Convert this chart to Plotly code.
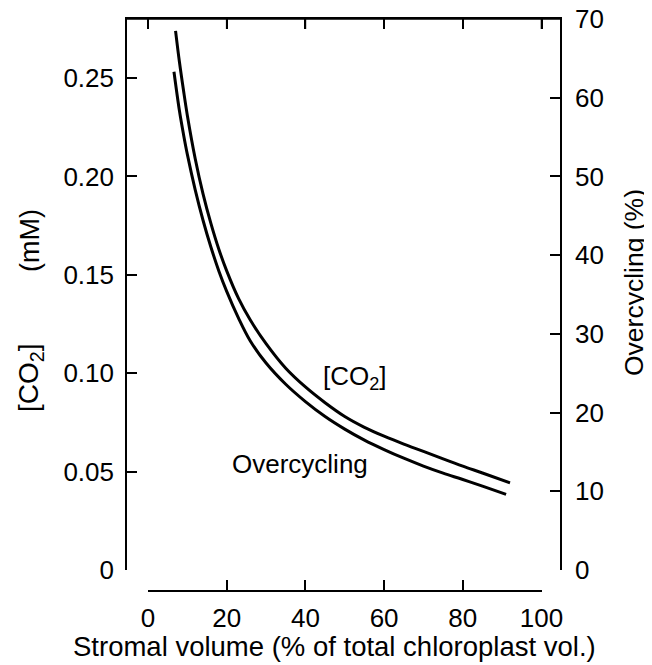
import plotly.graph_objects as go

# Stromal volume (% of total chloroplast volume)
stromal_co2 = [7, 8, 9, 10, 12, 14, 16, 18, 20, 23, 26, 30, 35, 40, 45, 50, 55, 60, 65, 70, 75, 80, 85, 92]
co2_mM = [0.274, 0.258, 0.244, 0.231, 0.209, 0.191, 0.176, 0.163, 0.152, 0.138, 0.127, 0.115, 0.1025,
          0.093, 0.085, 0.078, 0.0725, 0.068, 0.064, 0.0603, 0.0565, 0.0528, 0.0493, 0.0443]

stromal_oc = [6.6, 8, 9, 10, 12, 14, 16, 18, 20, 23, 26, 30, 35, 40, 45, 50, 55, 60, 65, 70, 75, 80, 85, 91]
overcycling_pct = [63.3, 58.3, 55.4, 52.8, 48.3, 44.4, 41.0, 38.0, 35.4, 32.0, 29.1, 26.3, 23.6,
                   21.4, 19.5, 17.9, 16.5, 15.3, 14.2, 13.2, 12.3, 11.5, 10.65, 9.6]

x_ticks = [0, 20, 40, 60, 80, 100]
left_ticks = [0, 0.05, 0.10, 0.15, 0.20, 0.25]
left_ticktext = ["0", "0.05", "0.10", "0.15", "0.20", "0.25"]
right_ticks = [0, 10, 20, 30, 40, 50, 60, 70]

FONT = "Liberation Sans, Arial, Helvetica, sans-serif"
TICKFONT = dict(family=FONT, size=26, color="black")

fig = go.Figure()
fig.add_trace(go.Scatter(x=stromal_co2, y=co2_mM, mode="lines", line=dict(color="black", width=3, shape="spline"),
                         xaxis="x", yaxis="y", showlegend=False, hoverinfo="skip"))
fig.add_trace(go.Scatter(x=stromal_oc, y=overcycling_pct, mode="lines", line=dict(color="black", width=3, shape="spline"),
                         xaxis="x", yaxis="y2", showlegend=False, hoverinfo="skip"))
# carrier trace for the detached bottom axis (invisible, lives in a thin strip below the plot)
fig.add_trace(go.Scatter(x=stromal_co2, y=co2_mM, mode="lines", line=dict(color="rgba(0,0,0,0)", width=0),
                         xaxis="x2", yaxis="y3", showlegend=False, hoverinfo="skip"))

# the page body keeps its default 8px margin: figure is 8px smaller, all page positions shifted by 8px
OFF = 8
W, H = 652 - OFF, 665 - OFF
L, R, T, B = 127 - OFF, 92, 19 - OFF, 75
pw = W - L - R
ph = H - T - B
x0_px, x100_px = 148 - OFF, 541.5 - OFF
scale = (x100_px - x0_px) / 100
xr = [-(x0_px - L) / scale, (W - R - x0_px) / scale]
ydom0 = 20 / ph
plot_h = ph * (1 - ydom0)
TICKLEN = 10
LW = 1.6

AX = dict(showline=True, linecolor="black", linewidth=LW, ticks="inside", ticklen=TICKLEN, tickwidth=LW,
          tickcolor="black", showgrid=False, zeroline=False, automargin=False, ticklabeloverflow="allow")

fig.update_layout(
    width=W, height=H,
    margin=dict(l=L, r=R, t=T, b=B),
    paper_bgcolor="white", plot_bgcolor="white",
    font=dict(family=FONT, color="black"),
    xaxis=dict(range=xr, side="top", anchor="y", tickvals=x_ticks, showticklabels=False, **AX),
    xaxis2=dict(range=[0, 100], domain=[(x0_px - L) / pw, (x100_px - L) / pw], anchor="y3",
                side="bottom", tickvals=x_ticks, tickfont=TICKFONT, ticklabelstandoff=4, **AX),
    yaxis3=dict(domain=[0, 0.002], anchor="x2", visible=False, range=[0, 1]),
    yaxis=dict(range=[0, 0.28], domain=[ydom0, 1], anchor="x", tickvals=left_ticks, ticktext=left_ticktext,
               tickfont=TICKFONT, ticklabelstandoff=6, **AX),
    yaxis2=dict(range=[0, 70], domain=[ydom0, 1], anchor="x", overlaying="y", side="right",
                tickvals=right_ticks, tickfont=TICKFONT, ticklabelstandoff=8, **AX),
)

# top frame line with its inward ticks (frame decoration)
shapes = [dict(type="line", xref="x domain", yref="y domain", x0=0, x1=1, y0=1, y1=1,
               line=dict(color="black", width=LW), layer="above")]
for v in x_ticks:
    shapes.append(dict(type="line", xref="x", yref="y domain", x0=v, x1=v, y0=1, y1=1 - TICKLEN / plot_h,
                       line=dict(color="black", width=LW), layer="above"))
fig.update_layout(shapes=shapes)

def px_to_paper(px, py):
    return (px - OFF - L) / pw, (H - B - (py - OFF)) / ph

anns = []
for text, (px, py), ang, size in [
    ("(mM)", (30, 241), -90, 27),
    ("[CO<sub>2</sub>]", (30, 378), -90, 28),
    ("Overcycling (%)", (634, 283), -90, 26.5),
    ("Stromal volume (% of total chloroplast vol.)", (334, 646), 0, 27.5),
]:
    ax, ay = px_to_paper(px, py)
    anns.append(dict(text=text, x=ax, y=ay, xref="paper", yref="paper", xanchor="center", yanchor="middle",
                     textangle=ang, showarrow=False, font=dict(family=FONT, size=size, color="black")))
anns.append(dict(text="[CO<sub>2</sub>]", x=52.6, y=0.098, xref="x", yref="y", xanchor="center",
                 yanchor="middle", showarrow=False, font=dict(family=FONT, size=26, color="black")))
anns.append(dict(text="Overcycling", x=38.6, y=0.0538, xref="x", yref="y", xanchor="center",
                 yanchor="middle", showarrow=False, font=dict(family=FONT, size=26, color="black")))
fig.update_layout(annotations=anns)

fig.write_html("out.html", config={"displayModeBar": False})
